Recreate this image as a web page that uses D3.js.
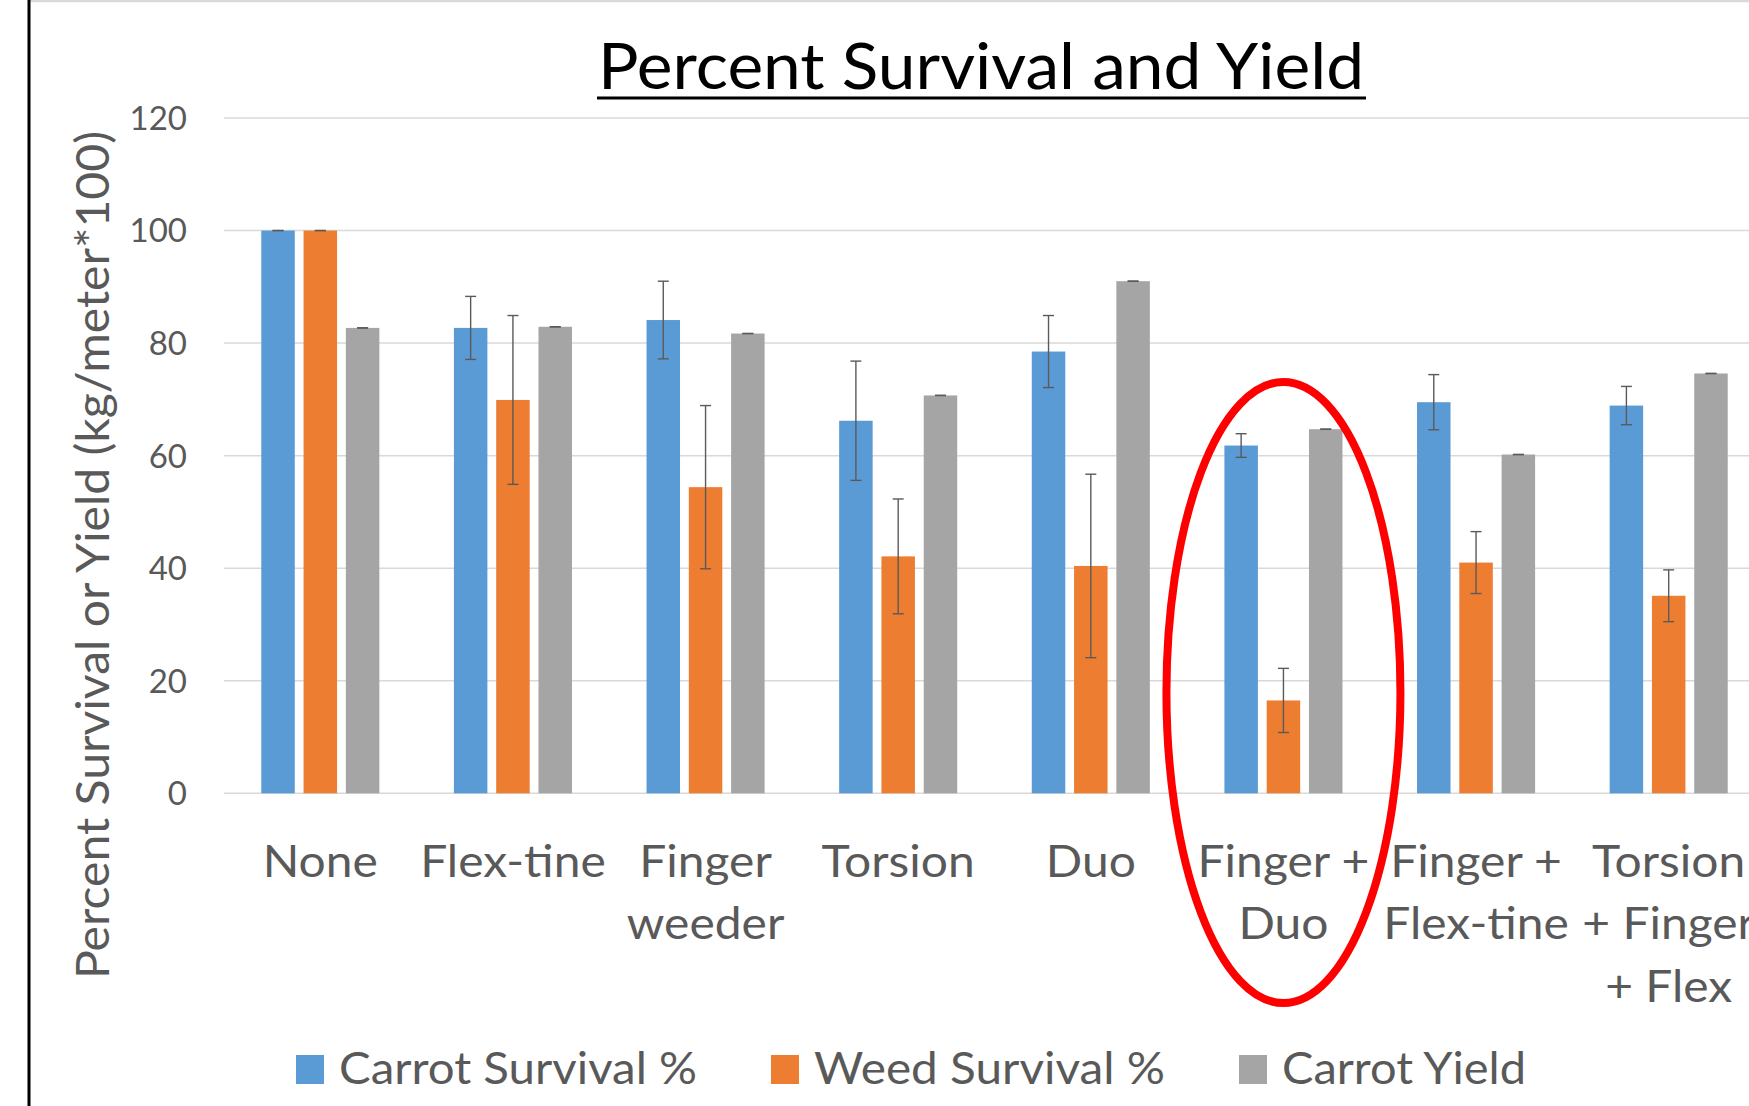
<!DOCTYPE html>
<html>
<head>
<meta charset="utf-8">
<script src="https://cdn.jsdelivr.net/npm/d3@7"></script>
<style>
  body { margin: 0; background: #fff; }
  svg { display: block; font-family: Lato, "Open Sans", sans-serif; }
</style>
</head>
<body>
<div id="chart"></div>
<script>
// categories and their wrapped label lines
const categories = ["None", "Flex-tine", "Finger weeder", "Torsion", "Duo", "Finger + Duo", "Finger + Flex-tine", "Torsion + Finger + Flex"];
const categoryLines = [["None"], ["Flex-tine"], ["Finger", "weeder"], ["Torsion"], ["Duo"], ["Finger +", "Duo"], ["Finger +", "Flex-tine"], ["Torsion", "+ Finger", "+ Flex"]];

// series values, with their error bars
const carrotSurvival    = [100, 82.7, 84.1, 66.2, 78.5, 61.8, 69.5, 68.9];
const carrotSurvivalErr = [0, 5.6, 6.9, 10.6, 6.4, 2.1, 4.9, 3.4];
const weedSurvival      = [100, 69.9, 54.4, 42.1, 40.4, 16.5, 41.0, 35.1];
const weedSurvivalErr   = [0, 15.0, 14.5, 10.2, 16.3, 5.7, 5.5, 4.6];
const carrotYield       = [82.7, 82.9, 81.7, 70.7, 91.0, 64.7, 60.2, 74.6];
const carrotYieldErr    = [0, 0, 0, 0, 0, 0, 0, 0];

const seriesNames = ["Carrot Survival %", "Weed Survival %", "Carrot Yield"];
const yTicks = [0, 20, 40, 60, 80, 100, 120];

const colours = { "Carrot Survival %": "#5B9BD5", "Weed Survival %": "#ED7D31", "Carrot Yield": "#A5A5A5" };
const textGrey = "#595959";

const W = 1749, H = 1106;
const plot = { left: 224, right: 1765, top: 118, bottom: 793.3 };

const series = [
  { name: seriesNames[0], values: carrotSurvival, err: carrotSurvivalErr },
  { name: seriesNames[1], values: weedSurvival, err: weedSurvivalErr },
  { name: seriesNames[2], values: carrotYield, err: carrotYieldErr },
];

const svg = d3.select("#chart").append("svg").attr("width", W).attr("height", H);

// frame edges of the cropped screenshot
svg.append("line").attr("x1", 30).attr("x2", W).attr("y1", 1).attr("y2", 1)
  .attr("stroke", "#d9d9d9").attr("stroke-width", 2.5);
svg.append("line").attr("x1", 29).attr("x2", 29).attr("y1", 0).attr("y2", H)
  .attr("stroke", "#000").attr("stroke-width", 3);

const x0 = d3.scaleBand().domain(categories).range([plot.left, plot.right]).paddingInner(0.387).paddingOuter(0.1935);
const x1 = d3.scaleBand().domain(seriesNames).range([0, x0.bandwidth()]).paddingInner(0.208);
const y = d3.scaleLinear().domain([0, 120]).range([plot.bottom, plot.top]);

// gridlines
svg.append("g").selectAll("line").data(yTicks).join("line")
  .attr("x1", plot.left).attr("x2", W)
  .attr("y1", d => y(d)).attr("y2", d => y(d))
  .attr("stroke", "#d9d9d9").attr("stroke-width", 1.5);

// y tick labels
svg.append("g").selectAll("text").data(yTicks).join("text")
  .attr("x", 187).attr("y", d => y(d)).attr("dy", "0.36em")
  .attr("text-anchor", "end").attr("fill", textGrey).style("font-size", "33px")
  .text(d => d);

// bars
const groups = svg.append("g").selectAll("g").data(categories).join("g")
  .attr("transform", d => `translate(${x0(d)},0)`);

groups.selectAll("rect").data((d, i) => series.map(s => ({ name: s.name, v: s.values[i] })))
  .join("rect")
  .attr("x", d => x1(d.name)).attr("width", x1.bandwidth())
  .attr("y", d => y(d.v)).attr("height", d => y(0) - y(d.v))
  .attr("fill", d => colours[d.name]);

// error bars
const capW = 11;
const eb = groups.selectAll("g.err").data((d, i) => series.map(s => ({ name: s.name, v: s.values[i], e: s.err[i] })))
  .join("g").attr("class", "err")
  .attr("stroke", "#5a5a5a").attr("stroke-width", 1.4);
eb.append("line")
  .attr("x1", d => x1(d.name) + x1.bandwidth() / 2).attr("x2", d => x1(d.name) + x1.bandwidth() / 2)
  .attr("y1", d => y(d.v + d.e)).attr("y2", d => y(d.v - d.e));
eb.append("line")
  .attr("x1", d => x1(d.name) + x1.bandwidth() / 2 - capW / 2).attr("x2", d => x1(d.name) + x1.bandwidth() / 2 + capW / 2)
  .attr("y1", d => y(d.v + d.e)).attr("y2", d => y(d.v + d.e));
eb.append("line")
  .attr("x1", d => x1(d.name) + x1.bandwidth() / 2 - capW / 2).attr("x2", d => x1(d.name) + x1.bandwidth() / 2 + capW / 2)
  .attr("y1", d => y(d.v - d.e)).attr("y2", d => y(d.v - d.e));

// category labels (stretched a little to match the wider original font)
svg.append("g").selectAll("text").data(categories).join("text")
  .attr("text-anchor", "middle").attr("fill", textGrey).style("font-size", "44px")
  .attr("transform", d => `translate(${x0(d) + x0.bandwidth() / 2},877) scale(1.09,1)`)
  .selectAll("tspan").data((d, i) => categoryLines[i]).join("tspan")
  .attr("x", 0).attr("y", (d, i) => i * 62.5)
  .text(d => d);

// title with underline
svg.append("text")
  .attr("x", 981).attr("y", 89).attr("text-anchor", "middle")
  .attr("fill", "#000").style("font-size", "64px")
  .attr("textLength", 766).attr("lengthAdjust", "spacingAndGlyphs")
  .text("Percent Survival and Yield");
svg.append("line").attr("x1", 597).attr("x2", 1366).attr("y1", 98).attr("y2", 98)
  .attr("stroke", "#000").attr("stroke-width", 3);

// y axis title
svg.append("text")
  .attr("transform", "translate(109,555) rotate(-90)")
  .attr("text-anchor", "middle").attr("fill", textGrey).style("font-size", "47px")
  .attr("textLength", 848).attr("lengthAdjust", "spacingAndGlyphs")
  .text("Percent Survival or Yield (kg/meter*100)");

// legend
const legendX = [296, 771, 1239];
const legendTextW = [358, 351, 244];
const legend = svg.append("g").selectAll("g").data(seriesNames).join("g")
  .attr("transform", (d, i) => `translate(${legendX[i]},0)`);
legend.append("rect").attr("x", 0).attr("y", 1055).attr("width", 28).attr("height", 29)
  .attr("fill", d => colours[d]);
legend.append("text").attr("x", 43).attr("y", 1084)
  .attr("fill", textGrey).style("font-size", "44px")
  .attr("textLength", (d, i) => legendTextW[i]).attr("lengthAdjust", "spacingAndGlyphs")
  .text(d => d);

// red highlight around the Finger + Duo group
svg.append("ellipse")
  .attr("cx", x0("Finger + Duo") + x0.bandwidth() / 2).attr("cy", 692.5)
  .attr("rx", 117).attr("ry", 310.5)
  .attr("fill", "none").attr("stroke", "#ff0000").attr("stroke-width", 8);
</script>
</body>
</html>
